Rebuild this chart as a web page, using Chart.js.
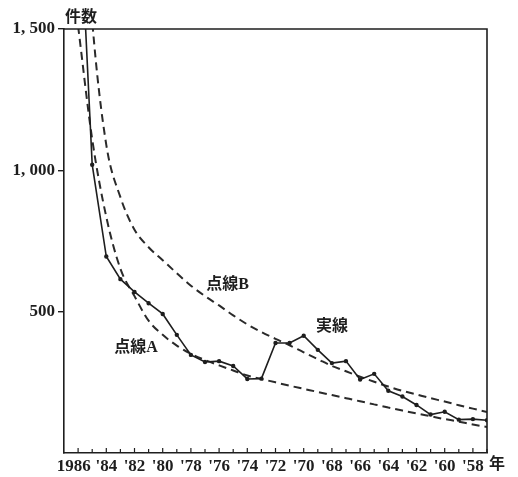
<!DOCTYPE html>
<html>
<head>
<meta charset="utf-8">
<script src="https://cdn.jsdelivr.net/npm/chart.js@4"></script>
<style>
  html, body { margin: 0; padding: 0; background: #fff; }
  #wrap { width: 518px; height: 477px; }
</style>
</head>
<body>
<div id="wrap"><canvas id="chart"></canvas></div>
<script>
// 年 (1986 → 1957, 逆順)
const years = [1986, 1985, 1984, 1983, 1982, 1981, 1980, 1979, 1978, 1977,
               1976, 1975, 1974, 1973, 1972, 1971, 1970, 1969, 1968, 1967,
               1966, 1965, 1964, 1963, 1962, 1961, 1960, 1959, 1958, 1957];

// 実線 (件数)
const solidValues = [2050, 1020, 695, 615, 570, 530, 492, 418, 347, 322,
                     325, 308, 262, 263, 389, 389, 415, 365, 318, 325,
                     260, 280, 220, 200, 170, 136, 146, 118, 120, 116];

// 点線A
const lineAValues = [1510, 1110, 835, 652, 555, 468, 418, 380, 351, 329,
                     310, 292, 274, 262, 250, 238, 227, 216, 205, 194,
                     183, 172, 161, 150, 140, 130, 120, 111, 101, 92];

// 点線B
const lineBValues = [2300, 1530, 1090, 905, 790, 728, 682, 636, 592, 555,
                     522, 487, 455, 428, 404, 381, 356, 332, 308, 289,
                     270, 252, 235, 220, 207, 194, 182, 169, 157, 145];

const xTickYears = [1986, 1984, 1982, 1980, 1978, 1976, 1974, 1972, 1970, 1968, 1966, 1964, 1962, 1960, 1958];
const xTickLabels = ['1986  ', "'84", "'82", "'80", "'78", "'76", "'74", "'72", "'70", "'68", "'66", "'64", "'62", "'60", "'58"];
const yTickValues = [500, 1000, 1500];
const yTickLabels = ['500', '1, 000', '1, 500'];

// 図中の注記
const notes = [
    { text: '点線B', x: 1975.4, y: 594 },
    { text: '点線A', x: 1981.9, y: 371 },
    { text: '実線', x: 1968.0, y: 446 }
];

const toPoints = vals => years.map((yr, i) => ({ x: yr, y: vals[i] }));

const serif = "'Liberation Serif', 'DejaVu Serif', serif";
const mixed = "'Liberation Serif', 'Noto Sans CJK JP', serif";
const ink = '#1e1e1e';

const framePlugin = {
    id: 'frame',
    afterDatasetsDraw(chart) {
        const { ctx, chartArea: a, scales } = chart;
        ctx.save();
        ctx.strokeStyle = ink;
        ctx.lineWidth = 1.6;
        ctx.beginPath();
        ctx.moveTo(a.left, a.top);
        ctx.lineTo(a.right, a.top);
        ctx.lineTo(a.right, a.bottom);
        ctx.stroke();

        // 内向きの目盛
        ctx.lineWidth = 1.2;
        for (let yr = 1986; yr >= 1957; yr--) {
            const px = scales.x.getPixelForValue(yr);
            const len = yr % 2 === 0 ? 5 : 4;
            ctx.beginPath();
            ctx.moveTo(px, a.bottom);
            ctx.lineTo(px, a.bottom - len);
            ctx.stroke();
        }

        ctx.fillStyle = ink;
        ctx.textAlign = 'center';
        ctx.textBaseline = 'middle';
        ctx.font = 'bold 16px ' + mixed;
        notes.forEach(n => {
            ctx.fillText(n.text, scales.x.getPixelForValue(n.x), scales.y.getPixelForValue(n.y));
        });

        ctx.font = 'bold 16px ' + mixed;
        ctx.textAlign = 'left';
        ctx.fillText('件数', a.left + 1, a.top - 11);
        ctx.fillText('年', a.right + 2, a.bottom + 12);
        ctx.restore();
    }
};

new Chart(document.getElementById('chart'), {
    type: 'line',
    data: {
        datasets: [
            {
                label: '実線',
                data: toPoints(solidValues),
                borderColor: ink,
                backgroundColor: ink,
                borderWidth: 1.6,
                pointRadius: 1.4,
                pointBackgroundColor: ink,
                tension: 0
            },
            {
                label: '点線A',
                data: toPoints(lineAValues),
                borderColor: '#2a2a2a',
                borderWidth: 2,
                borderDash: [8, 5],
                pointRadius: 0,
                cubicInterpolationMode: 'monotone'
            },
            {
                label: '点線B',
                data: toPoints(lineBValues),
                borderColor: '#2a2a2a',
                borderWidth: 2,
                borderDash: [8, 5],
                pointRadius: 0,
                cubicInterpolationMode: 'monotone'
            }
        ]
    },
    options: {
        responsive: true,
        maintainAspectRatio: false,
        animation: false,
        layout: { padding: { top: 29, right: 31, left: 0, bottom: 0 } },
        plugins: { legend: { display: false }, tooltip: { enabled: false } },
        scales: {
            x: {
                type: 'linear',
                reverse: true,
                min: 1957,
                max: 1987,
                afterFit: s => { s.height = 24; },
                afterBuildTicks: s => { s.ticks = xTickYears.map(v => ({ value: v })); },
                grid: { display: false, drawTicks: false },
                border: { display: true, color: ink, width: 1.6 },
                ticks: {
                    autoSkip: false,
                    maxRotation: 0,
                    padding: 3,
                    color: ink,
                    font: { family: serif, size: 17, weight: 'bold' },
                    callback: v => xTickLabels[xTickYears.indexOf(v)]
                }
            },
            y: {
                min: 0,
                max: 1500,
                afterFit: s => { s.width = 64; },
                afterBuildTicks: s => { s.ticks = yTickValues.map(v => ({ value: v })); },
                grid: { drawOnChartArea: false, drawTicks: true, tickLength: 6, color: ink, lineWidth: 1.4 },
                border: { display: true, color: ink, width: 1.6 },
                ticks: {
                    padding: 3,
                    color: ink,
                    font: { family: serif, size: 17, weight: 'bold' },
                    callback: v => yTickLabels[yTickValues.indexOf(v)]
                }
            }
        }
    },
    plugins: [framePlugin]
});
</script>
</body>
</html>
